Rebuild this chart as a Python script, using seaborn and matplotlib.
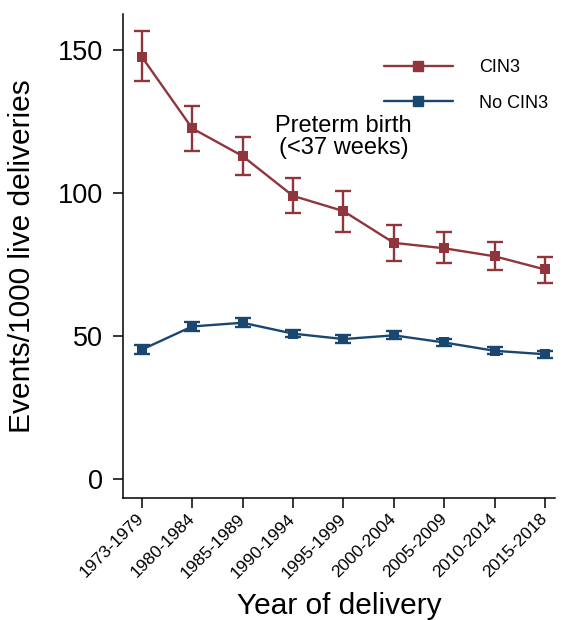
import matplotlib
matplotlib.use("Agg")
import matplotlib.pyplot as plt
from matplotlib.lines import Line2D
import seaborn as sns
import pandas as pd
import numpy as np

# values
periods = ["1973-1979", "1980-1984", "1985-1989", "1990-1994", "1995-1999",
           "2000-2004", "2005-2009", "2010-2014", "2015-2018"]
cin3 = [147.6, 122.6, 112.9, 99.0, 93.7, 82.6, 80.7, 77.9, 73.3]
cin3_lo = [139.0, 114.7, 106.3, 93.0, 86.5, 76.4, 75.5, 73.2, 68.5]
cin3_hi = [156.4, 130.3, 119.4, 105.3, 100.7, 88.7, 86.5, 82.9, 77.7]
no_cin3 = [45.3, 53.4, 54.7, 50.9, 49.0, 50.3, 47.8, 44.9, 43.7]
no_cin3_lo = [43.8, 51.9, 53.2, 49.6, 47.6, 48.9, 46.5, 43.7, 42.5]
no_cin3_hi = [46.8, 54.9, 56.2, 52.2, 50.4, 51.7, 49.1, 46.1, 44.9]

red = "#90353B"
navy = "#1A476F"

sns.set_style("ticks")
plt.rcParams['font.family'] = ['Liberation Sans', 'DejaVu Sans']
for key in ["text.color", "axes.labelcolor", "xtick.color", "ytick.color",
            "axes.edgecolor"]:
    plt.rcParams[key] = "black"

df = pd.DataFrame({
    "idx": list(range(len(periods))) * 2,
    "rate": cin3 + no_cin3,
    "lo": cin3_lo + no_cin3_lo,
    "hi": cin3_hi + no_cin3_hi,
    "group": ["CIN3"] * len(periods) + ["No CIN3"] * len(periods),
})
colors = {"CIN3": red, "No CIN3": navy}

fig = plt.figure(figsize=(5.64, 6.2), dpi=100)
ax = fig.add_axes([0.2176, 0.1963, 0.7666, 0.7811])

# confidence intervals as error bars
for grp, sub in df.groupby("group"):
    ax.errorbar(sub["idx"], sub["rate"],
                yerr=[sub["rate"] - sub["lo"], sub["hi"] - sub["rate"]],
                fmt="none", ecolor=colors[grp], elinewidth=1.7,
                capsize=5.5, capthick=1.7, zorder=2)

sns.lineplot(data=df, x="idx", y="rate", hue="group", palette=colors,
             marker="s", markersize=7.5, markeredgewidth=0, linewidth=1.7,
             ax=ax, legend=False, zorder=3)

ax.set_xlim(-0.377, 8.2)
ax.set_ylim(-6.6, 162.5)
ax.set_yticks([0, 50, 100, 150])
ax.set_xticks(range(len(periods)))
ax.set_xticklabels(periods, rotation=45, ha="right", va="center",
                   rotation_mode="anchor", fontsize=12.5)
ax.tick_params(axis="y", labelsize=19.5, length=7, width=1.1, pad=7)
ax.tick_params(axis="x", length=7, width=1.1, pad=6)
sns.despine(ax=ax)
for s in ["left", "bottom"]:
    ax.spines[s].set_linewidth(1.1)

ax.set_ylabel("Events/1000 live deliveries", fontsize=21.5)
ax.set_xlabel("Year of delivery", fontsize=21.5)
ax.yaxis.set_label_coords(-0.2, 0.5)
ax.xaxis.set_label_coords(0.5, -0.193)

ax.text(4.0, 119.6, "Preterm birth\n(<37 weeks)", fontsize=17, ha="center",
        va="center", linespacing=1.0)

handles = [Line2D([], [], color=red, marker="s", markersize=7.5, linewidth=1.7),
           Line2D([], [], color=navy, marker="s", markersize=7.5, linewidth=1.7)]
fig.legend(handles, ["CIN3", "No CIN3"], loc="center left",
           bbox_to_anchor=(384 / 564, 1 - 85.5 / 620), frameon=False,
           fontsize=13, handlelength=3.8, handletextpad=1.45,
           labelspacing=1.0, borderpad=0, borderaxespad=0)

fig.savefig("out.png", dpi=100)
